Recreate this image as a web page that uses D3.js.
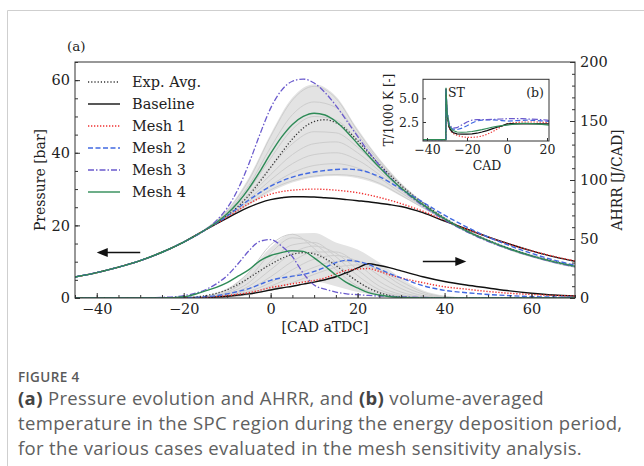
<!DOCTYPE html>
<html>
<head>
<meta charset="utf-8">
<script src="https://cdn.jsdelivr.net/npm/d3@7"></script>
<style>
  body { margin: 0; background: #fff; }
  svg { display: block; }
</style>
</head>
<body>
<div id="canvas"></div>
<script>
// crank angle grid for the coloured curves [CAD aTDC]
const cad = [-45,-40,-35,-30,-25,-20,-15,-12.5,-10,-7.5,-5,-2.5,0,2.5,5,7.5,10,12.5,15,17.5,20,22.5,25,27.5,30,35,40,45,50,55,60,65,70];

// pressure [bar]
const pExpAvg   = [5.8,7.0,8.5,10.3,12.6,15.4,18.8,20.6,22.7,25.2,28.3,32.0,36.0,40.0,43.8,46.8,48.6,49.1,48.3,46.3,43.3,40.0,36.8,33.8,31.0,26.2,22.0,18.6,15.9,13.6,11.7,10.1,8.8];
const pBaseline = [5.8,7.0,8.5,10.3,12.6,15.4,18.8,20.4,22.0,23.6,25.0,26.2,27.1,27.6,27.9,27.9,27.8,27.6,27.4,27.1,26.8,26.5,26.1,25.7,25.2,23.5,21.2,19.0,16.8,14.8,13.0,11.4,10.1];
const pMesh1    = [5.8,7.0,8.5,10.3,12.6,15.4,18.8,20.5,22.3,24.2,26.0,27.5,28.6,29.3,29.7,29.9,30.0,29.9,29.7,29.4,29.0,28.4,27.7,26.9,26.0,23.9,21.4,19.0,16.8,14.8,13.0,11.5,10.2];
const pMesh2    = [5.8,7.0,8.5,10.3,12.6,15.4,18.8,20.6,22.6,24.8,27.0,29.0,30.8,32.2,33.3,34.1,34.7,35.1,35.4,35.5,35.3,34.6,33.4,31.8,30.0,26.4,22.8,19.6,16.8,14.4,12.3,10.5,9.0];
const pMesh3    = [5.8,7.0,8.5,10.3,12.6,15.4,18.8,21.3,24.8,30.0,37.0,45.0,52.3,57.2,59.7,60.3,59.2,56.6,53.0,48.8,44.5,40.3,36.6,33.2,30.2,25.4,21.5,18.3,15.6,13.4,11.5,9.9,8.6];
const pMesh4    = [5.8,7.0,8.5,10.3,12.6,15.4,18.8,20.8,23.2,26.3,30.2,34.8,39.8,44.3,47.8,50.0,50.9,50.4,48.6,45.8,42.5,39.2,36.0,33.0,30.3,25.7,21.8,18.5,15.8,13.5,11.6,10.0,8.7];

// apparent heat release rate [J/CAD]
const hExpAvg   = [0,0,0,0,0,0.3,2,4,7,11.5,17,23,28.5,33.5,37,38.4,37.5,33.5,27.5,20.5,14,8.5,4.5,2,0.8,0.2,0,0,0,0,0,0,0];
const hBaseline = [0,0,0,0,0,0,0.3,0.8,1.5,2.5,3.5,5,6.8,8.5,10,11.8,13.5,15.5,18,21.5,25.5,29,27.5,25.5,23,18,14,11,8.5,6,4,2.5,1.7];
const hMesh1    = [0,0,0,0,0,0,0.5,1.2,2,3.2,4.5,6.5,8.8,10.5,12,13.5,14.8,17,20.5,23.5,24.5,25,22.5,19.5,17,13,9.5,7.5,5.5,4,3,2.2,1.7];
const hMesh2    = [0,0,0,0,0,0.3,1,2,3.5,5.5,8,11.5,15,17,18.5,20,22.5,26,30,32,31,28.5,24.5,20.5,17,10.5,6.5,4.5,3,2,1.2,0.8,0.5];
const hMesh3    = [0,0,0,0,0.5,2,7,12,19,29,40,48,49.5,44,35,21,11,7.5,5,3.5,2.8,2.2,1.7,1.3,1,0.5,0.2,0,0,0,0,0,0];
const hMesh4    = [0,0,0,0,0,1,6,9,13,18.5,24,31.5,36,38.5,40,39.5,34,27,19.5,13,8.5,4.5,2.5,1,0.4,0,0,0,0,0,0,0,0];

// experimental cycles (grey band)
const greyCad = [-25,-20,-15,-10,-5,0,5,10,15,20,25,30,35,40,45,50,55,60,65,70];
const pGreyHi = [12.8,15.6,19.2,24.4,33.2,45.2,55.2,58.9,55.6,46.6,38.4,31.7,26.6,22.4,19.0,16.2,13.9,12.0,10.4,9.2];
const pGreyLo = [12.4,15.2,18.5,22.0,25.6,29.2,31.8,33.2,33.6,33.0,31.2,28.0,24.7,21.3,18.1,15.4,13.1,11.2,9.6,8.3];
const pCycles = [
  [12.6,15.4,19.0,24.0,32.5,44.5,54.5,58.3,55.0,46.0,38.0,31.3,26.2,22.0,18.6,15.9,13.6,11.7,10.1,8.8],
  [12.6,15.4,18.9,23.6,31.0,41.5,50.5,54.0,52.5,45.0,37.5,31.0,26.0,22.0,18.6,15.9,13.6,11.7,10.1,8.8],
  [12.6,15.4,18.9,23.3,29.8,38.5,46.5,50.0,49.0,43.5,36.8,30.8,25.9,21.9,18.5,15.8,13.5,11.6,10.0,8.7],
  [12.6,15.4,18.8,23.0,28.8,36.0,42.5,45.8,45.5,41.5,35.8,30.3,25.7,21.8,18.5,15.8,13.5,11.6,10.0,8.7],
  [12.6,15.4,18.8,22.8,28.0,34.0,39.5,42.5,43.0,40.0,35.0,30.0,25.6,21.8,18.4,15.7,13.4,11.5,9.9,8.6],
  [12.6,15.4,18.7,22.6,27.3,32.5,37.0,39.5,40.0,38.0,34.0,29.6,25.4,21.7,18.4,15.7,13.4,11.5,9.9,8.6],
  [12.6,15.4,18.7,22.4,26.6,31.0,34.5,36.5,37.0,35.8,33.0,29.0,25.2,21.6,18.3,15.6,13.3,11.4,9.8,8.5],
  [12.6,15.4,18.6,22.2,26.0,29.8,32.3,33.6,34.0,33.5,31.6,28.3,24.9,21.5,18.3,15.6,13.3,11.4,9.8,8.5]
];
const hGreyHi = [0,0.5,2,8,22,43,54.5,55,47,41,30,17,6.5,2,0.5,0,0,0,0,0];
const hGreyLo = [0,0,0,0.5,2.5,7,12,14,10,5,2,0.5,0,0,0,0,0,0,0,0];
const hCycles = [
  [0,0.5,1.5,7,22,45,54,42,24,10,3,1,0.3,0,0,0,0,0,0,0],
  [0,0.3,1.0,5,17,38,51,46,30,14,5,1.5,0.3,0,0,0,0,0,0,0],
  [0,0.2,0.8,4,13,31,45,47,35,19,7,2,0.5,0,0,0,0,0,0,0],
  [0,0.1,0.5,3,10,24,38,44,38,24,10,3,0.8,0,0,0,0,0,0,0],
  [0,0.1,0.4,2,7.5,18,31,39,39,29,14,5,1.2,0.2,0,0,0,0,0,0],
  [0,0,0.3,1.5,5.5,13,24,33,36,31,19,8,2,0.4,0,0,0,0,0,0],
  [0,0,0.2,1,4,10,18,26,31,31,23,11,3.5,0.8,0,0,0,0,0,0],
  [0,0,0.1,0.8,3,7,13,20,26,28,24,14,5,1.2,0.2,0,0,0,0,0]
];

// inset (b): volume-averaged temperature T/1000 K
const tCad      = [-42,-30.6,-30.5,-30,-29,-28,-27,-25,-22.5,-20,-17.5,-15,-12.5,-10,-7.5,-5,-2.5,0,2.5,5,7.5,10,12.5,15,17.5,20,21];
const tBaseline = [0.65,0.65,6.0,3.4,2.0,1.6,1.4,1.25,1.22,1.22,1.25,1.32,1.45,1.6,1.78,1.95,2.1,2.3,2.32,2.3,2.34,2.3,2.3,2.32,2.3,2.3,2.3];
const tMesh1    = [0.65,0.65,6.0,3.3,1.9,1.5,1.3,1.1,0.95,0.88,0.88,0.92,1.02,1.2,1.45,1.75,2.05,2.3,2.4,2.45,2.5,2.5,2.5,2.5,2.48,2.45,2.45];
const tMesh2    = [0.65,0.65,6.0,3.6,2.3,1.9,1.75,1.7,1.85,2.1,2.4,2.62,2.7,2.72,2.72,2.7,2.65,2.6,2.62,2.65,2.68,2.7,2.68,2.66,2.62,2.58,2.55];
const tMesh3    = [0.65,0.65,6.0,3.7,2.4,2.0,1.85,1.9,2.2,2.5,2.7,2.75,2.75,2.75,2.78,2.8,2.82,2.85,2.85,2.85,2.85,2.82,2.8,2.78,2.75,2.7,2.65];
const tMesh4    = [0.65,0.65,6.1,3.6,2.2,1.8,1.6,1.45,1.42,1.45,1.5,1.6,1.7,1.82,1.95,2.05,2.12,2.18,2.25,2.3,2.35,2.35,2.33,2.3,2.25,2.2,2.18];

const serif = "'DejaVu Serif', serif";

const series = [
  { name: "Exp. Avg.", p: pExpAvg,   h: hExpAvg,   t: null,      color: "#333",    dash: "1.2,2",     w: 1.3 },
  { name: "Baseline",  p: pBaseline, h: hBaseline, t: tBaseline, color: "#111",    dash: null,        w: 1.4 },
  { name: "Mesh 1",    p: pMesh1,    h: hMesh1,    t: tMesh1,    color: "#f03030", dash: "1.3,1.7",   w: 1.4 },
  { name: "Mesh 2",    p: pMesh2,    h: hMesh2,    t: tMesh2,    color: "#4169e1", dash: "5,2.5",     w: 1.4 },
  { name: "Mesh 3",    p: pMesh3,    h: hMesh3,    t: tMesh3,    color: "#6a5acd", dash: "6,2,1.5,2", w: 1.3 },
  { name: "Mesh 4",    p: pMesh4,    h: hMesh4,    t: tMesh4,    color: "#2e8b57", dash: null,        w: 1.4 }
];

const svg = d3.select("#canvas")
  .append("svg")
  .attr("width", 644)
  .attr("height", 466);

// page frame
svg.append("path")
  .attr("d", "M7.5,466V10.5H644")
  .attr("fill", "none")
  .attr("stroke", "#cfcfcf");

const x = d3.scaleLinear().domain([-45, 70]).range([75, 575]);
const yP = d3.scaleLinear().domain([0, 65]).range([298, 62]);
const yH = d3.scaleLinear().domain([0, 200]).range([298, 62]);

svg.append("clipPath").attr("id", "plotClip")
  .append("rect").attr("x", 75).attr("y", 62).attr("width", 500).attr("height", 236);

const plot = svg.append("g").attr("clip-path", "url(#plotClip)");

function lineOf(xs, yScale, xScale) {
  return d3.line()
    .x((d, i) => xScale(xs[i]))
    .y(d => yScale(d))
    .curve(d3.curveMonotoneX);
}

// grey band of experimental cycles
const areaP = d3.area()
  .x((d, i) => x(greyCad[i]))
  .y0((d, i) => yP(pGreyLo[i]))
  .y1(d => yP(d))
  .curve(d3.curveMonotoneX);
const areaH = d3.area()
  .x((d, i) => x(greyCad[i]))
  .y0((d, i) => yH(hGreyLo[i]))
  .y1(d => yH(d))
  .curve(d3.curveMonotoneX);

plot.append("path").datum(pGreyHi).attr("d", areaP).attr("fill", "#e3e3e3");
plot.append("path").datum(hGreyHi).attr("d", areaH).attr("fill", "#e3e3e3");

plot.selectAll(".greyP")
  .data(pCycles)
  .enter().append("path")
  .attr("class", "greyP")
  .attr("d", lineOf(greyCad, yP, x))
  .attr("fill", "none")
  .attr("stroke", "#cdcdcd")
  .attr("stroke-width", 1);

plot.selectAll(".greyH")
  .data(hCycles)
  .enter().append("path")
  .attr("class", "greyH")
  .attr("d", lineOf(greyCad, yH, x))
  .attr("fill", "none")
  .attr("stroke", "#cdcdcd")
  .attr("stroke-width", 1);

// simulation + average curves
series.forEach(s => {
  [[s.p, yP], [s.h, yH]].forEach(([vals, ys]) => {
    plot.append("path")
      .datum(vals)
      .attr("d", lineOf(cad, ys, x))
      .attr("fill", "none")
      .attr("stroke", s.color)
      .attr("stroke-width", s.w)
      .attr("stroke-dasharray", s.dash);
  });
});

// arrows pointing to the axis each group belongs to
function arrow(x1, x2, yv) {
  const dir = Math.sign(x2 - x1);
  svg.append("line")
    .attr("x1", x1).attr("x2", x2 - dir * 8)
    .attr("y1", yv).attr("y2", yv)
    .attr("stroke", "#111").attr("stroke-width", 1.5);
  svg.append("path")
    .attr("d", `M${x2},${yv}L${x2 - dir * 11},${yv - 4.5}L${x2 - dir * 11},${yv + 4.5}Z`)
    .attr("fill", "#111");
}
arrow(x(-30), x(-40), yP(12.5));
arrow(x(35), x(45), yH(31));

// axes
function styleAxis(g) {
  g.select(".domain").remove();
  g.selectAll(".tick line").attr("stroke", "#333");
  g.selectAll("text")
    .attr("font-family", serif)
    .attr("font-size", "14.5px")
    .attr("fill", "#222");
}

svg.append("g")
  .attr("transform", "translate(0,298)")
  .call(d3.axisBottom(x).tickValues(d3.range(-45, 71, 5)).tickSize(-3).tickFormat(""))
  .call(styleAxis);
svg.append("g")
  .attr("transform", "translate(0,298)")
  .call(d3.axisBottom(x).tickValues([-40, -20, 0, 20, 40, 60]).tickSize(-5).tickPadding(6))
  .call(styleAxis);

svg.append("g")
  .attr("transform", "translate(75,0)")
  .call(d3.axisLeft(yP).tickValues(d3.range(0, 66, 5)).tickSize(-3).tickFormat(""))
  .call(styleAxis);
svg.append("g")
  .attr("transform", "translate(75,0)")
  .call(d3.axisLeft(yP).tickValues([0, 20, 40, 60]).tickSize(-5).tickPadding(5))
  .call(styleAxis);

svg.append("g")
  .attr("transform", "translate(575,0)")
  .call(d3.axisRight(yH).tickValues(d3.range(0, 201, 10)).tickSize(-3).tickFormat(""))
  .call(styleAxis);
svg.append("g")
  .attr("transform", "translate(575,0)")
  .call(d3.axisRight(yH).tickValues([0, 50, 100, 150, 200]).tickSize(-5).tickPadding(5))
  .call(styleAxis);

svg.append("rect")
  .attr("x", 75).attr("y", 62).attr("width", 500).attr("height", 236)
  .attr("fill", "none").attr("stroke", "#333").attr("stroke-width", 1);

// axis titles
svg.append("text")
  .attr("x", 325).attr("y", 332)
  .attr("text-anchor", "middle")
  .attr("font-family", serif).attr("font-size", "14px").attr("fill", "#222")
  .text("[CAD aTDC]");

svg.append("text")
  .attr("transform", "translate(45,180) rotate(-90)")
  .attr("text-anchor", "middle")
  .attr("font-family", serif).attr("font-size", "14px").attr("fill", "#222")
  .text("Pressure [bar]");

svg.append("text")
  .attr("transform", "translate(622,180) rotate(-90)")
  .attr("text-anchor", "middle")
  .attr("font-family", serif).attr("font-size", "14px").attr("fill", "#222")
  .text("AHRR [J/CAD]");

svg.append("text")
  .attr("x", 67).attr("y", 51)
  .attr("font-family", serif).attr("font-size", "13.5px").attr("fill", "#222")
  .text("(a)");

// legend
const legend = svg.append("g").attr("class", "legend");
series.forEach((s, i) => {
  const ly = 82 + 22 * i;
  legend.append("line")
    .attr("x1", 88).attr("x2", 120).attr("y1", ly).attr("y2", ly)
    .attr("stroke", s.color).attr("stroke-width", s.w)
    .attr("stroke-dasharray", s.dash);
  legend.append("text")
    .attr("x", 132).attr("y", ly).attr("dy", "0.35em")
    .attr("font-family", serif).attr("font-size", "14.5px").attr("fill", "#222")
    .text(s.name);
});

// inset (b)
const xi = d3.scaleLinear().domain([-42, 21]).range([423, 549]);
const yi = d3.scaleLinear().domain([0.5, 7]).range([141, 79.3]);

svg.append("rect")
  .attr("x", 423).attr("y", 79.3).attr("width", 126).attr("height", 61.7)
  .attr("fill", "#fff");

const inset = svg.append("g");
[series[2], series[1], series[3], series[4], series[5]].forEach(s => {
  inset.append("path")
    .datum(s.t)
    .attr("d", d3.line().x((d, i) => xi(tCad[i])).y(d => yi(d)))
    .attr("fill", "none")
    .attr("stroke", s.color)
    .attr("stroke-width", 1.2)
    .attr("stroke-dasharray", s.dash);
});

function styleInset(g) {
  g.select(".domain").remove();
  g.selectAll(".tick line").attr("stroke", "#333");
  g.selectAll("text")
    .attr("font-family", serif)
    .attr("font-size", "12.5px")
    .attr("fill", "#222");
}
svg.append("g")
  .attr("transform", "translate(0,141)")
  .call(d3.axisBottom(xi).tickValues([-40, -20, 0, 20]).tickSize(-3).tickPadding(4))
  .call(styleInset);
svg.append("g")
  .attr("transform", "translate(423,0)")
  .call(d3.axisLeft(yi).tickValues([2.5, 5.0]).tickSize(-3).tickPadding(4).tickFormat(d3.format(".1f")))
  .call(styleInset);

svg.append("rect")
  .attr("x", 423).attr("y", 79.3).attr("width", 126).attr("height", 61.7)
  .attr("fill", "none").attr("stroke", "#333");

svg.append("text")
  .attr("x", 448).attr("y", 97)
  .attr("font-family", serif).attr("font-size", "12.5px").attr("fill", "#222")
  .text("ST");
svg.append("text")
  .attr("x", 544).attr("y", 97).attr("text-anchor", "end")
  .attr("font-family", serif).attr("font-size", "12.5px").attr("fill", "#222")
  .text("(b)");
svg.append("text")
  .attr("x", 487).attr("y", 170).attr("text-anchor", "middle")
  .attr("font-family", serif).attr("font-size", "12.5px").attr("fill", "#222")
  .text("CAD");
svg.append("text")
  .attr("transform", "translate(393,110) rotate(-90)")
  .attr("text-anchor", "middle")
  .attr("font-family", serif).attr("font-size", "12px").attr("fill", "#222")
  .text("T/1000 K [-]");

// caption
const capFont = "'Open Sans', 'Noto Sans', sans-serif";
svg.append("text")
  .attr("x", 18).attr("y", 382)
  .attr("font-family", capFont).attr("font-size", "13.5px")
  .attr("letter-spacing", "0.4px")
  .attr("font-weight", 600).attr("fill", "#5a5a5a")
  .text("FIGURE 4");

const capLines = [
  [["(a)", true], [" Pressure evolution and AHRR, and ", false], ["(b)", true], [" volume-averaged", false]],
  [["temperature in the SPC region during the energy deposition period,", false]],
  [["for the various cases evaluated in the mesh sensitivity analysis.", false]]
];
capLines.forEach((parts, i) => {
  const t = svg.append("text")
    .attr("x", 18).attr("y", 405 + 25 * i)
    .attr("font-family", capFont).attr("font-size", "18.5px")
    .attr("letter-spacing", "0.35px")
    .attr("fill", "#606060");
  parts.forEach(([str, bold]) => {
    t.append("tspan")
      .attr("font-weight", bold ? 700 : 400)
      .attr("fill", bold ? "#444" : "#606060")
      .text(str);
  });
});
</script>
</body>
</html>
